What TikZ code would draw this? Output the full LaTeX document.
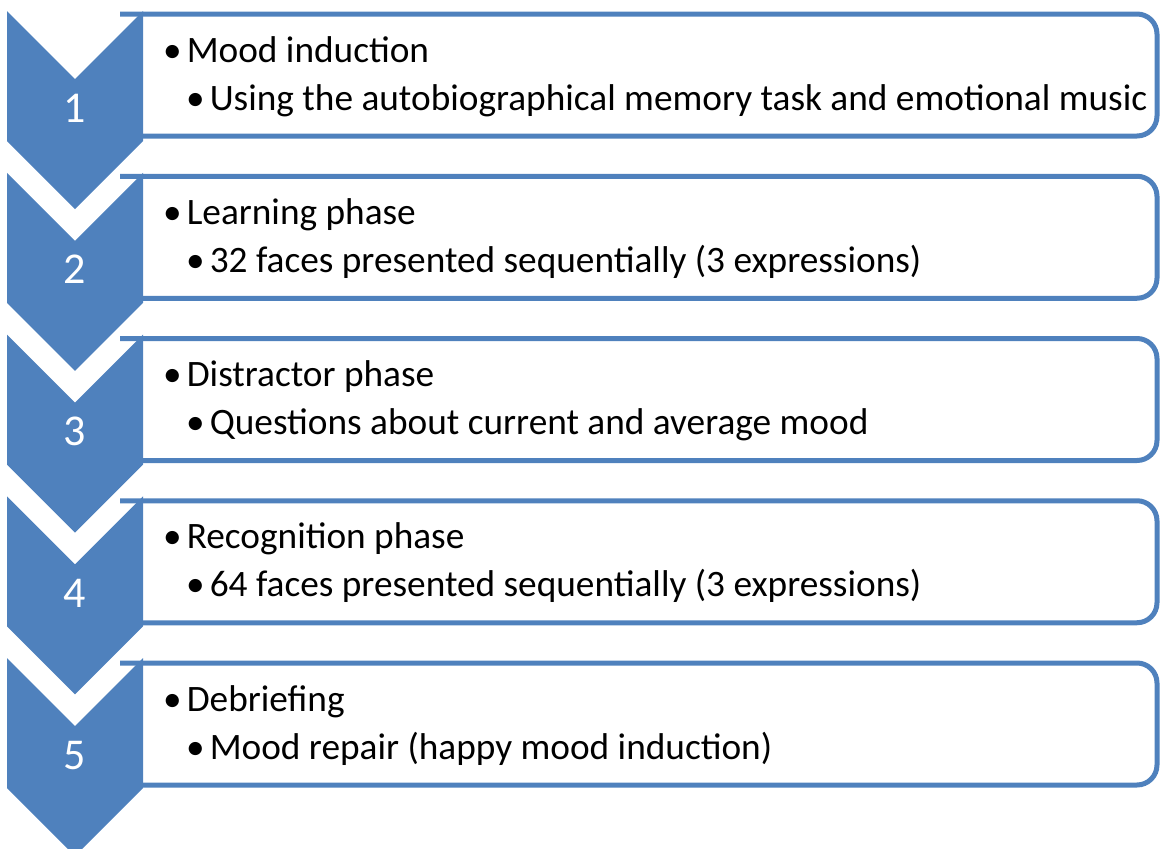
\documentclass[tikz,border=0pt]{standalone}
\usepackage{fontspec}
\setmainfont{Carlito}
\definecolor{stepblue}{HTML}{4F81BD}
\tikzset{
  stepnum/.style={text=white,font=\fontsize{44}{52}\selectfont,inner sep=0pt,anchor=base},
  steptext/.style={font=\fontsize{37.3}{44}\selectfont,inner sep=0pt,anchor=base west},
  stepframe/.style={draw=stepblue,line width=5pt,rounded corners=20pt}
}
\begin{document}
\begin{tikzpicture}[x=1pt,y=-1pt]
\useasboundingbox (0,0) rectangle (1160,849);
\foreach \n/\head/\body in {
  1/Mood induction/Using the autobiographical memory task and emotional music,
  2/Learning phase/32 faces presented sequentially (3 expressions),
  3/Distractor phase/Questions about current and average mood,
  4/Recognition phase/64 faces presented sequentially (3 expressions),
  5/Debriefing/Mood repair (happy mood induction)}{
  \pgfmathsetmacro{\bt}{14+162.25*(\n-1)}
  \pgfmathsetmacro{\ct}{11+161.75*(\n-1)}
  % box on the right
  \draw[stepframe] (120,\bt) -- (1157,\bt) -- (1157,\bt+122) -- (120,\bt+122);
  % chevron on the left
  \fill[stepblue] (7,\ct) -- (75,\ct+68) -- (143,\ct) -- (143,\ct+130)
    -- (75,\ct+198) -- (7,\ct+130) -- cycle;
  \node[stepnum] (num\n) at (75,\ct+111) {\n};
  \node[steptext] (head\n) at (163,\bt+48) {•\hspace{5pt}\head};
  \node[steptext] (body\n) at (186,\bt+96) {•\hspace{5pt}\body};
}
\end{tikzpicture}
\end{document}
